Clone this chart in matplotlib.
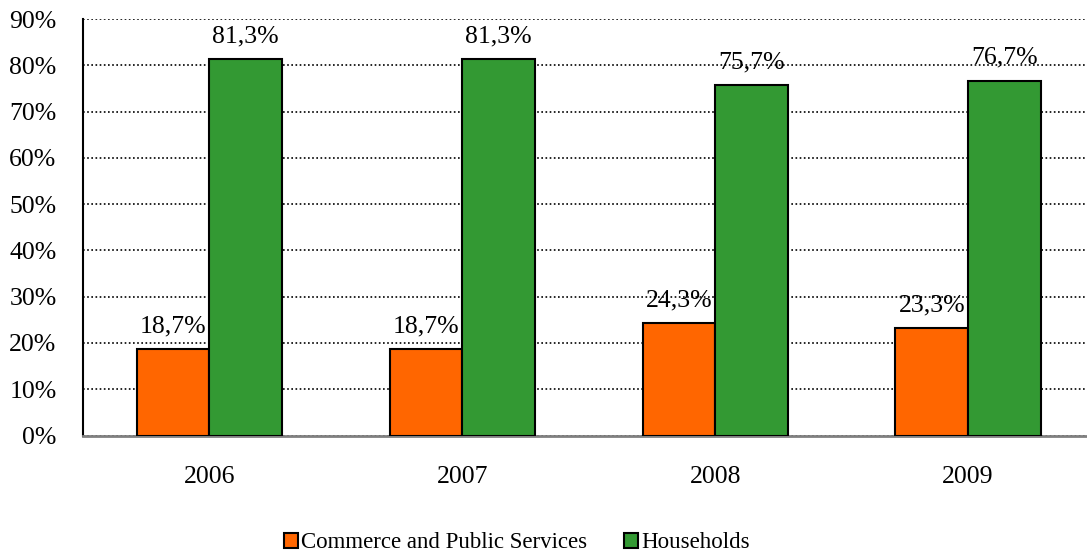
import numpy as np
import matplotlib.pyplot as plt

plt.rcParams['font.family'] = ['Liberation Serif', 'DejaVu Serif']

years = ['2006', '2007', '2008', '2009']
commerce = [18.7, 18.7, 24.3, 23.3]
households = [81.3, 81.3, 75.7, 76.7]
commerce_lbl = ['18,7%', '18,7%', '24,3%', '23,3%']
households_lbl = ['81,3%', '81,3%', '75,7%', '76,7%']

W, H = 1087, 559
fig = plt.figure(figsize=(W / 100, H / 100), dpi=100)
# axes runs past the right edge, as in the source picture
ax = fig.add_axes([83 / W, 1 - 435.5 / H, (1094.5 - 83) / W, (435.5 - 19) / H])

x = np.arange(len(years))
w = 0.287
b1 = ax.bar(x - w / 2, commerce, w, color='#FF6600', edgecolor='black',
            linewidth=1.5, label='Commerce and Public Services', zorder=3)
b2 = ax.bar(x + w / 2, households, w, color='#339933', edgecolor='black',
            linewidth=1.5, label='Households', zorder=3)

for bars, labels in ((b1, commerce_lbl), (b2, households_lbl)):
    for r, t in zip(bars, labels):
        ax.annotate(t, (r.get_x() + r.get_width() / 2, r.get_height()),
                    xytext=(0, 12), textcoords='offset points',
                    ha='center', va='baseline', fontsize=18.5, zorder=5)

ax.set_xlim(-0.5, len(years) - 0.5)
ax.set_ylim(0, 90)
ax.set_yticks(np.arange(0, 91, 10))
ax.set_yticklabels([f'{v}%' for v in range(0, 91, 10)])
ax.set_xticks(x)
ax.set_xticklabels(years)
ax.tick_params(axis='y', length=0, pad=19, labelsize=18.5)
ax.tick_params(axis='x', length=0, pad=22, labelsize=18.5)

ax.yaxis.grid(True, linestyle=(0, (1, 1.5)), color='black', linewidth=1.2, zorder=0)
ax.set_axisbelow(True)
for s in ('top', 'right'):
    ax.spines[s].set_visible(False)
ax.spines['left'].set_color('black')
ax.spines['left'].set_linewidth(1.5)
ax.spines['bottom'].set_color('#808080')
ax.spines['bottom'].set_linewidth(2)

fig.legend(handles=[b1, b2], loc='center', bbox_to_anchor=(517 / W, 1 - 543 / H),
           ncol=2, frameon=False, fontsize=16.5, handlelength=0.6, handleheight=0.6,
           handletextpad=0.15, columnspacing=1.6, borderaxespad=0)

fig.savefig('out.png', dpi=100)
